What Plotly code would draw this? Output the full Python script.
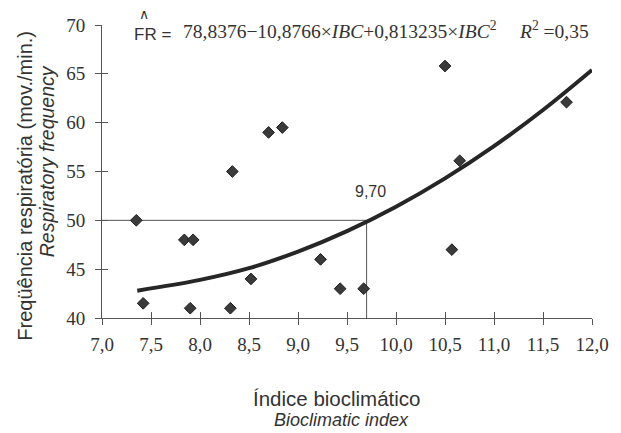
import plotly.graph_objects as go

# ---- data ----
ibc = [7.35, 7.42, 7.84, 7.93, 7.90, 8.33, 8.31, 8.52, 8.70, 8.84,
       9.23, 9.43, 9.67, 10.50, 10.65, 10.57, 11.74]
fr = [50.0, 41.5, 48.0, 48.0, 41.0, 55.0, 41.0, 44.0, 59.0, 59.5,
      46.0, 43.0, 43.0, 65.8, 56.1, 47.0, 62.1]

curve_x = [7.36, 8.0, 8.5, 9.0, 9.5, 10.0, 10.5, 11.0, 11.5, 12.0]
curve_y = [42.8, 43.9, 45.1, 46.8, 48.9, 51.4, 54.3, 57.6, 61.3, 65.4]

ref_x = 9.70
ref_y = 50.0
ref_label = "9,70"

x_ticks = [7.0, 7.5, 8.0, 8.5, 9.0, 9.5, 10.0, 10.5, 11.0, 11.5, 12.0]
x_ticklabels = ["7,0", "7,5", "8,0", "8,5", "9,0", "9,5", "10,0", "10,5", "11,0", "11,5", "12,0"]
y_ticks = [40, 45, 50, 55, 60, 65, 70]
y_ticklabels = ["40", "45", "50", "55", "60", "65", "70"]
x_range = [7.0, 12.0]
y_range = [40, 70]

equation = ("78,8376\u221210,8766\u00d7<i>IBC</i>+0,813235\u00d7<i>IBC</i><sup>2</sup>"
            "\u2003\u2009<i>R</i><sup>2</sup> =0,35")

SANS = "Liberation Sans, Arial, Helvetica, sans-serif"
SERIF = "Times New Roman, Liberation Serif, Times, DejaVu Serif, serif"
INK = "#333333"

fig = go.Figure()

# reference lines
fig.add_trace(go.Scatter(
    x=[x_range[0], ref_x, ref_x], y=[ref_y, ref_y, y_range[0]],
    mode="lines", line=dict(color="#555555", width=1),
    hoverinfo="skip", showlegend=False, cliponaxis=False))

# fitted curve
fig.add_trace(go.Scatter(
    x=curve_x, y=curve_y, mode="lines",
    line=dict(color="#262626", width=4, shape="spline", smoothing=1.0),
    showlegend=False, cliponaxis=False))

# observations
fig.add_trace(go.Scatter(
    x=ibc, y=fr, mode="markers",
    marker=dict(symbol="diamond", size=9, color="#3a3a3a",
                line=dict(color="#1e1e1e", width=1)),
    showlegend=False, cliponaxis=False))

# invisible trace for the overlay axes (inner half of the cross ticks)
fig.add_trace(go.Scatter(x=[None], y=[None], xaxis="x2", yaxis="y2",
                         mode="markers", showlegend=False, hoverinfo="skip"))

axis_common = dict(showgrid=False, zeroline=False, showline=True,
                   linecolor="#555555", linewidth=1, tickcolor="#555555",
                   tickwidth=1, ticklen=6)

L, R, T, Bm = 102, 18, 25, 115
W, H = 621, 433
PW, PH = W - L - R, H - T - Bm
B = H - Bm

fig.update_layout(
    width=W, height=H,
    margin=dict(l=L, r=R, t=T, b=Bm),
    paper_bgcolor="white", plot_bgcolor="white",
    xaxis=dict(range=x_range, tickvals=x_ticks, ticktext=x_ticklabels,
               ticks="outside", ticklabelstandoff=3,
               tickfont=dict(family=SERIF, size=19, color=INK), **axis_common),
    yaxis=dict(range=y_range, tickvals=y_ticks, ticktext=y_ticklabels,
               ticks="outside", ticklabelstandoff=6,
               tickfont=dict(family=SERIF, size=19, color=INK), **axis_common),
    xaxis2=dict(range=x_range, tickvals=x_ticks, ticks="inside",
                showticklabels=False, overlaying="x", side="bottom",
                **axis_common),
    yaxis2=dict(range=y_range, tickvals=y_ticks, ticks="inside",
                showticklabels=False, overlaying="y", side="left",
                **axis_common),
)

ann = []
# y axis titles
ann.append(dict(text="Freqüência respiratória (mov./min.)", xref="paper", yref="paper",
                x=-(L - 23) / PW, y=(B - 186) / PH, textangle=-90,
                showarrow=False, xanchor="center", yanchor="middle",
                font=dict(family=SANS, size=20, color=INK)))
ann.append(dict(text="<i>Respiratory frequency</i>", xref="paper", yref="paper",
                x=-(L - 46) / PW, y=(B - 161) / PH, textangle=-90,
                showarrow=False, xanchor="center", yanchor="middle",
                font=dict(family=SANS, size=19.5, color=INK)))
# x axis titles
ann.append(dict(text="Índice bioclimático", xref="paper", yref="paper",
                x=(342 - L) / PW, y=-(398 - B) / PH,
                showarrow=False, xanchor="center", yanchor="middle",
                font=dict(family=SANS, size=20.5, color=INK)))
ann.append(dict(text="<i>Bioclimatic index</i>", xref="paper", yref="paper",
                x=(347 - L) / PW, y=-(432 - B) / PH,
                showarrow=False, xanchor="center", yanchor="bottom",
                font=dict(family=SANS, size=18, color=INK)))
# reference value label
ann.append(dict(text=ref_label, x=ref_x, y=ref_y, xref="x", yref="y",
                showarrow=False, xanchor="center", yanchor="bottom",
                xshift=4, yshift=18,
                font=dict(family=SANS, size=16, color=INK)))
# equation
ann.append(dict(text="FR =", xref="paper", yref="paper",
                x=(133 - L) / PW, y=(B - 34) / PH,
                showarrow=False, xanchor="left", yanchor="middle",
                font=dict(family=SANS, size=17, color=INK)))
ann.append(dict(text="\u2227", xref="paper", yref="paper",
                x=(145 - L) / PW, y=(B - 14) / PH,
                showarrow=False, xanchor="center", yanchor="middle",
                font=dict(family=SANS, size=14, color=INK)))
ann.append(dict(text=equation, xref="paper", yref="paper",
                x=(183 - L) / PW, y=(B - 30) / PH,
                showarrow=False, xanchor="left", yanchor="middle",
                font=dict(family=SERIF, size=19.5, color=INK)))

fig.update_layout(annotations=ann)
fig.write_html("out.html",
               config={"displayModeBar": False},
               post_script="document.body.style.margin='0';"
                           "document.body.style.overflow='hidden';")
